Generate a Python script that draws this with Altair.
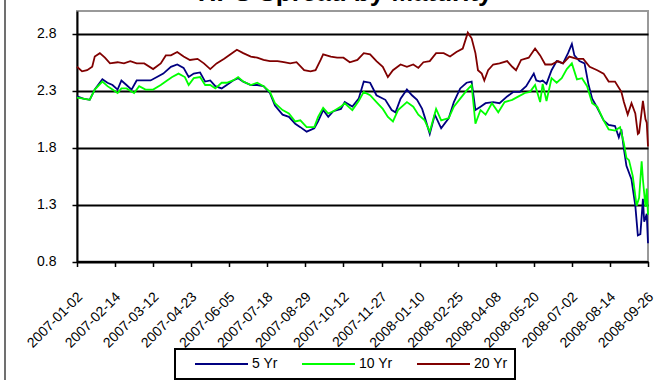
import altair as alt
import pandas as pd

TITLE = "TIPS Spread by Maturity"
SERIES = ["5 Yr", "10 Yr", "20 Yr"]
COLORS = ["#000080", "#00FF00", "#800000"]
DATE_LABELS = ["2007-01-02", "2007-02-14", "2007-03-12", "2007-04-23", "2007-06-05",
               "2007-07-18", "2007-08-29", "2007-10-12", "2007-11-27", "2008-01-10",
               "2008-02-25", "2008-04-08", "2008-05-20", "2008-07-02", "2008-08-14",
               "2008-09-26"]
TICK_STEP = 30
Y_TICKS = [0.8, 1.3, 1.8, 2.3, 2.8]

idx_5 = [0,5,10,14,20,24,28,32,35,39,43,47,53,58,63,68,74,79,84,88,92,97,101,105,109,114,118,123,127,131,
         137,142,147,152,156,162,167,172,176,181,187,190,194,198,202,208,211,217,222,226,231,236,243,248,251,
         255,260,264,268,272,274,278,282,287,293,297,302,307,311,314,318,322,328,333,339,344,349,354,360,362,
         365,367,370,374,378,383,387,390,392,396,400,403,406,410,415,419,424,427,429,431,433,437,440,442,444,
         446,447,448,449,450]
val_5 = [2.25,2.23,2.22,2.31,2.40,2.37,2.35,2.31,2.39,2.35,2.31,2.39,2.39,2.39,2.42,2.45,2.51,2.53,2.50,2.42,
         2.45,2.46,2.38,2.39,2.34,2.32,2.35,2.39,2.41,2.38,2.35,2.35,2.34,2.28,2.17,2.09,2.07,2.01,1.98,1.94,
         1.97,2.03,2.13,2.07,2.12,2.14,2.20,2.16,2.23,2.38,2.37,2.26,2.22,2.13,2.11,2.23,2.31,2.26,2.22,2.14,
         2.07,1.92,2.09,1.97,2.06,2.20,2.32,2.37,2.38,2.13,2.16,2.19,2.20,2.19,2.25,2.29,2.29,2.34,2.45,2.39,
         2.38,2.39,2.36,2.48,2.56,2.54,2.63,2.71,2.61,2.56,2.54,2.36,2.23,2.15,2.04,2.00,1.99,1.89,1.96,1.79,
         1.64,1.52,1.29,1.03,1.04,1.35,1.15,1.18,1.22,0.96]

idx_10 = [0,5,10,14,20,24,28,32,35,39,45,49,54,60,66,71,75,80,85,88,92,97,101,105,109,114,118,123,127,131,
          137,142,147,152,156,162,167,172,176,181,187,190,194,198,202,208,211,217,222,226,231,236,241,245,249,
          253,260,265,269,274,278,283,287,293,297,302,307,311,314,318,322,327,332,337,343,348,353,357,361,365,
          367,370,374,378,382,386,390,394,398,402,406,410,415,419,424,428,431,433,435,438,441,443,445,446,448,
          449,450]
val_10 = [2.24,2.23,2.22,2.31,2.38,2.34,2.31,2.28,2.32,2.32,2.28,2.34,2.31,2.31,2.35,2.39,2.42,2.45,2.42,2.35,
          2.41,2.42,2.35,2.35,2.32,2.37,2.37,2.39,2.42,2.38,2.35,2.37,2.34,2.29,2.19,2.13,2.10,2.03,2.04,1.98,
          1.98,2.07,2.15,2.10,2.12,2.16,2.19,2.13,2.21,2.29,2.26,2.20,2.14,2.07,2.03,2.13,2.20,2.16,2.09,2.04,
          1.94,2.14,2.04,2.06,2.16,2.23,2.30,2.35,2.01,2.13,2.09,2.19,2.11,2.20,2.22,2.25,2.28,2.29,2.35,2.20,
          2.36,2.21,2.41,2.37,2.41,2.49,2.54,2.40,2.41,2.34,2.19,2.16,2.04,1.96,1.95,1.98,1.84,1.71,1.69,1.55,
          1.29,1.36,1.68,1.52,1.28,1.44,1.21]

idx_20 = [0,4,8,12,14,18,22,26,32,37,42,47,53,60,66,70,74,79,84,89,95,100,105,110,116,121,126,131,137,142,
          147,152,158,163,168,173,179,184,188,192,194,200,205,210,215,221,226,231,236,241,245,249,255,260,265,
          269,273,278,283,289,294,299,304,308,311,314,316,319,321,324,328,333,339,343,346,350,356,361,365,369,
          374,379,383,388,394,399,404,410,415,419,424,429,431,434,437,440,442,443,446,448,449,450]
val_20 = [2.51,2.47,2.48,2.51,2.60,2.63,2.59,2.54,2.55,2.54,2.56,2.54,2.54,2.49,2.54,2.61,2.61,2.64,2.60,2.57,
          2.58,2.54,2.49,2.54,2.58,2.62,2.66,2.63,2.60,2.59,2.57,2.56,2.56,2.55,2.54,2.55,2.48,2.47,2.48,2.57,
          2.62,2.60,2.59,2.59,2.55,2.57,2.63,2.62,2.56,2.51,2.42,2.48,2.53,2.51,2.53,2.50,2.55,2.56,2.63,2.63,
          2.60,2.64,2.67,2.81,2.76,2.63,2.48,2.45,2.39,2.48,2.53,2.54,2.56,2.51,2.48,2.57,2.59,2.67,2.61,2.53,
          2.53,2.56,2.54,2.60,2.58,2.58,2.51,2.48,2.45,2.38,2.38,2.29,2.20,2.09,2.19,2.10,1.92,1.93,2.21,2.05,
          2.02,1.81]

rows = []
for name, idxs, vals in zip(SERIES, [idx_5, idx_10, idx_20], [val_5, val_10, val_20]):
    for i, v in zip(idxs, vals):
        rows.append({"idx": i, "value": v, "series": name})
df = pd.DataFrame(rows)

FONT = "Liberation Sans"
W, H = 571, 250.5
last_idx = TICK_STEP * (len(DATE_LABELS) - 1)
x_ticks = [i * TICK_STEP for i in range(len(DATE_LABELS))]
label_expr = "[" + ",".join("'" + d + "'" for d in DATE_LABELS) + "][round(datum.value/" + str(TICK_STEP) + ")]"

x_enc = alt.X(
    "idx:Q",
    scale=alt.Scale(domain=[0, last_idx], nice=False, zero=False),
    axis=alt.Axis(values=x_ticks, labelExpr=label_expr, labelAngle=-45, labelAlign="right",
                  labelBaseline="top", labelPadding=23, labelOffset=-2, tickSize=5, tickWidth=1.5,
                  tickColor="black", domainColor="black", domainWidth=2, labelFont=FONT,
                  labelFontSize=14, labelColor="black", grid=False, title=None,
                  labelOverlap=False, labelFlush=False),
)
y_enc = alt.Y(
    "value:Q",
    scale=alt.Scale(domain=[0.8, 3.0], nice=False, zero=False),
    axis=alt.Axis(values=Y_TICKS, format=".1f", grid=True, gridColor="black", gridWidth=2,
                  tickSize=5, tickWidth=1.5, tickColor="black", domainColor="black", domainWidth=2,
                  labelFont=FONT, labelFontSize=14, labelColor="black", labelPadding=16,
                  title=None, labelOverlap=False, labelFlush=False),
)
color_enc = alt.Color(
    "series:N",
    scale=alt.Scale(domain=SERIES, range=COLORS),
    legend=alt.Legend(orient="none", legendX=98, legendY=338, direction="horizontal", columns=3,
                      title=None, symbolType="stroke", symbolSize=2809, symbolStrokeWidth=2,
                      labelFont=FONT, labelFontSize=14, labelColor="black", labelOffset=3,
                      columnPadding=11, padding=7, strokeColor="black", clipHeight=16,
                      symbolOffset=12),
)

base = alt.Chart(df).encode(x=x_enc, y=y_enc, color=color_enc)
lines = [base.transform_filter(alt.datum.series == s).mark_line(strokeWidth=1.8) for s in SERIES]

title_layer = alt.Chart(pd.DataFrame({"t": [TITLE]})).mark_text(
    font=FONT, fontSize=26, fontWeight="bold", align="center", baseline="alphabetic", color="black"
).encode(text="t:N", x=alt.value(266), y=alt.value(-10))

border = alt.Chart(pd.DataFrame({"k": [0]})).mark_rule(color="#404040", strokeWidth=1.5).encode(
    x=alt.value(-72), y=alt.value(-11), y2=alt.value(369)
)

chart = alt.layer(*lines, title_layer, border).properties(
    width=W, height=H,
    autosize=alt.AutoSizeParams(type="none"),
    padding={"left": 77, "top": 11, "right": 23, "bottom": 118.5},
).configure_view(stroke="#999999", strokeWidth=2).configure_legend(strokeWidth=2)

chart.save("out.html", embed_options={"renderer": "svg", "actions": False})
